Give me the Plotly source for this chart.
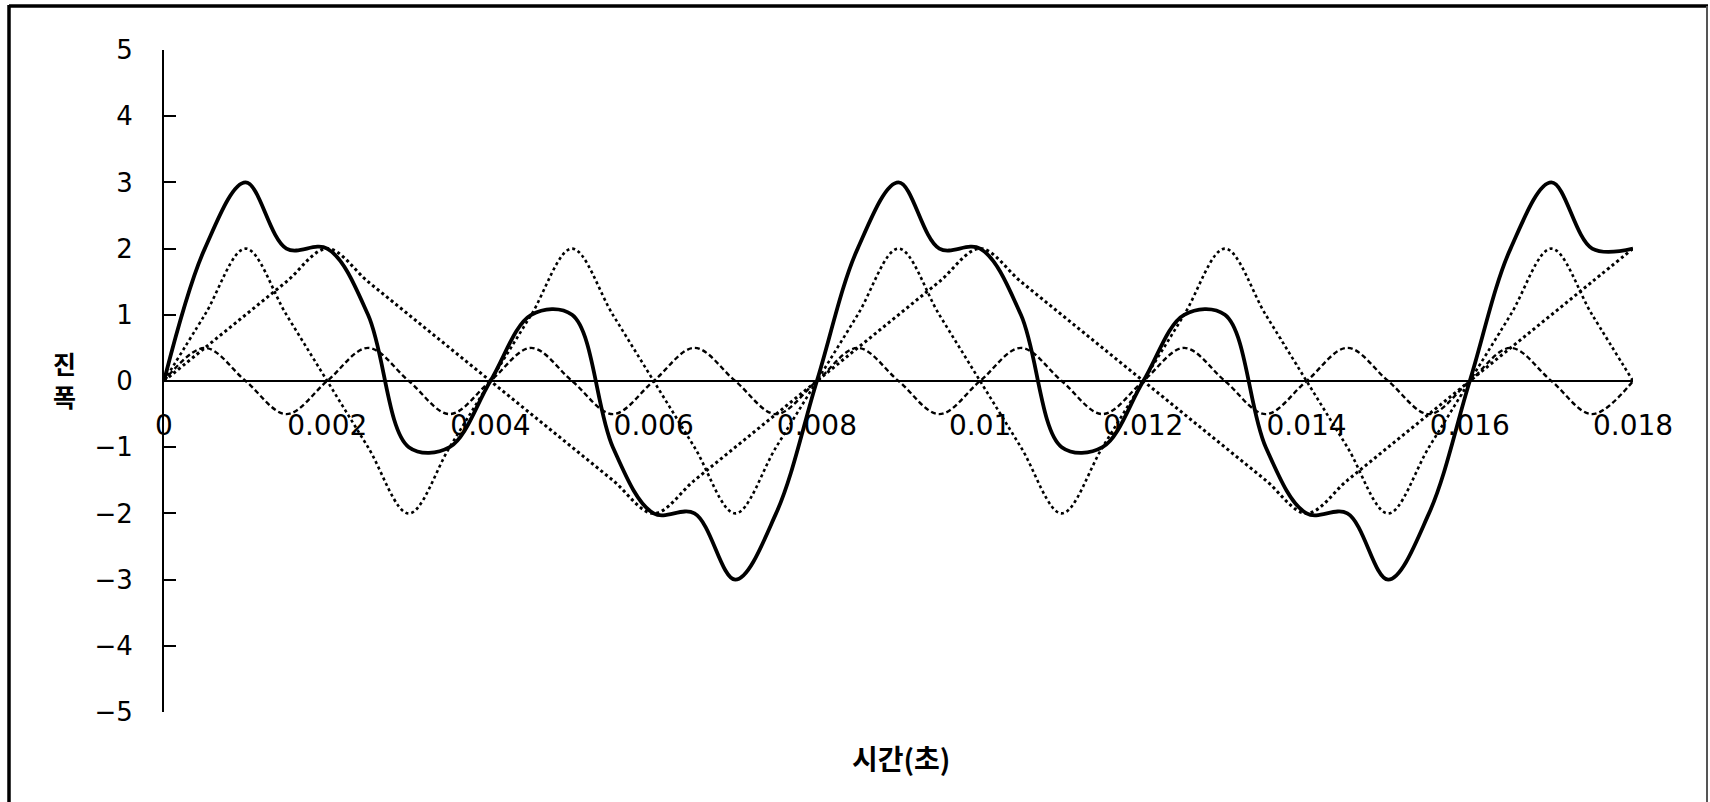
import plotly.graph_objects as go

# time axis (seconds), sampled every 0.0005 s
t = [round(i * 0.0005, 4) for i in range(37)]

# component with period 0.008 s (straight dotted)
comp_a = [0, 0.5, 1, 1.5, 2, 1.5, 1, 0.5, 0, -0.5, -1, -1.5, -2, -1.5, -1, -0.5,
          0, 0.5, 1, 1.5, 2, 1.5, 1, 0.5, 0, -0.5, -1, -1.5, -2, -1.5, -1, -0.5,
          0, 0.5, 1, 1.5, 2]
# component with period 0.004 s
comp_b = [0, 1, 2, 1, 0, -1, -2, -1, 0, 1, 2, 1, 0, -1, -2, -1,
          0, 1, 2, 1, 0, -1, -2, -1, 0, 1, 2, 1, 0, -1, -2, -1,
          0, 1, 2, 1, 0]
# component with period 0.002 s
comp_c = [0, 0.5, 0, -0.5, 0, 0.5, 0, -0.5, 0, 0.5, 0, -0.5, 0, 0.5, 0, -0.5,
          0, 0.5, 0, -0.5, 0, 0.5, 0, -0.5, 0, 0.5, 0, -0.5, 0, 0.5, 0, -0.5,
          0, 0.5, 0, -0.5, 0]
# resulting (summed) waveform
total = [0, 2, 3, 2, 2, 1, -1, -1, 0, 1, 1, -1, -2, -2, -3, -2,
         0, 2, 3, 2, 2, 1, -1, -1, 0, 1, 1, -1, -2, -2, -3, -2,
         0, 2, 3, 2, 2]

x_ticks = [0, 0.002, 0.004, 0.006, 0.008, 0.01, 0.012, 0.014, 0.016, 0.018]
x_tick_text = ["0", "0.002", "0.004", "0.006", "0.008", "0.01", "0.012", "0.014", "0.016", "0.018"]
y_ticks = [5, 4, 3, 2, 1, 0, -1, -2, -3, -4, -5]
y_tick_text = ["5", "4", "3", "2", "1", "0", "\u22121", "\u22122", "\u22123", "\u22124", "\u22125"]

x_title = "시간(초)"
y_title_chars = ["진", "폭"]

W, H = 1710, 802
L, R, T, B = 164, 77, 50, 90
PW, PH = W - L - R, H - T - B


def px(x):
    return (x - L) / PW


def py(y):
    return (H - B - y) / PH


fig = go.Figure()
fig.add_trace(go.Scatter(x=t, y=comp_a, mode="lines",
                         line=dict(color="black", width=3.0, dash="3px,3px", shape="spline", smoothing=1)))
fig.add_trace(go.Scatter(x=t, y=comp_b, mode="lines",
                         line=dict(color="black", width=2.6, dash="3px,3px", shape="spline", smoothing=1)))
fig.add_trace(go.Scatter(x=t, y=comp_c, mode="lines",
                         line=dict(color="black", width=2.4, dash="5px,3px", shape="spline", smoothing=1)))
fig.add_trace(go.Scatter(x=t, y=total, mode="lines",
                         line=dict(color="black", width=3.8, shape="spline", smoothing=1)))

font_main = "DejaVu Sans, Liberation Sans, Arial, sans-serif"
font_kr = "Noto Sans CJK KR, sans-serif"

annotations = [
    dict(text=x_title, xref="paper", yref="paper", x=px(901), y=py(758),
         xanchor="center", yanchor="middle", showarrow=False,
         font=dict(size=28, family=font_kr, color="black", weight="bold")),
]
for ch, yy in zip(y_title_chars, [363, 396]):
    annotations.append(dict(text=ch, xref="paper", yref="paper", x=px(64), y=py(yy),
                            xanchor="center", yanchor="middle", showarrow=False,
                            font=dict(size=25, family=font_kr, color="black", weight="bold")))

fig.update_layout(
    width=W, height=H,
    margin=dict(l=L, r=R, t=T, b=B),
    paper_bgcolor="white", plot_bgcolor="white",
    showlegend=False,
    font=dict(family=font_main, color="black", size=24),
    xaxis=dict(range=[0, 0.018], tickvals=x_ticks, ticktext=x_tick_text,
               anchor="free", position=0.5, showline=True, linecolor="black", linewidth=1.6,
               showgrid=False, zeroline=False, ticks="", ticklabelstandoff=20,
               tickfont=dict(size=28, family=font_main, color="black")),
    yaxis=dict(range=[-5, 5], tickvals=y_ticks, ticktext=y_tick_text,
               showline=True, linecolor="black", linewidth=1.8,
               showgrid=False, zeroline=False, ticks="inside", ticklen=12, tickwidth=1.5,
               tickcolor="black", ticklabelstandoff=24,
               tickfont=dict(size=26, family=font_main, color="black")),
    annotations=annotations,
    shapes=[
        dict(type="line", xref="paper", yref="paper",
             x0=px(9), x1=px(9), y0=py(5), y1=py(805),
             line=dict(color="black", width=3.5)),
        dict(type="line", xref="paper", yref="paper",
             x0=px(9), x1=px(1708), y0=py(6), y1=py(6),
             line=dict(color="black", width=3.5)),
        dict(type="line", xref="paper", yref="paper",
             x0=px(1707), x1=px(1707), y0=py(6), y1=py(805),
             line=dict(color="#555555", width=2)),
    ],
)

fig.write_html("out.html", config={"displayModeBar": False},
               post_script="document.body.style.margin='0';document.body.style.overflow='hidden';")
